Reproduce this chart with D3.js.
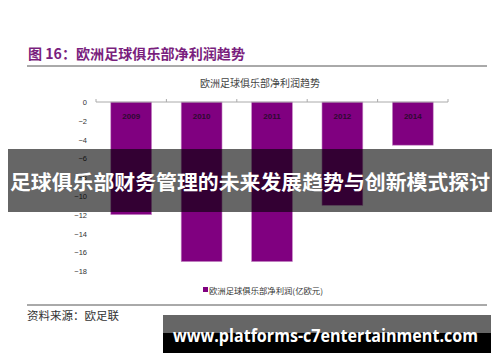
<!DOCTYPE html>
<html>
<head>
<meta charset="utf-8">
<script src="https://cdn.jsdelivr.net/npm/d3@7"></script>
<style>
  body { margin: 0; background: #fff; }
  svg { display: block; }
</style>
</head>
<body>
<svg id="chart" width="500" height="362"></svg>
<script>
// data
var years = ["2009", "2010", "2011", "2012", "2014"];
var profits = [-12, -17, -17, -11, -4.6];
var yTicks = [0, -2, -4, -6, -8, -10, -12, -14, -16, -18];

var cjk = "'Noto Sans CJK SC', 'Noto Sans', sans-serif";
var svg = d3.select("#chart");

// page header
svg.append("text")
    .attr("x", 28).attr("y", 59)
    .attr("font-family", cjk)
    .attr("font-size", 14)
    .attr("font-weight", "bold")
    .attr("fill", "#7a1f7e")
    .attr("textLength", 217)
    .attr("lengthAdjust", "spacingAndGlyphs")
    .text("图  16：欧洲足球俱乐部净利润趋势");

svg.append("line")
    .attr("x1", 27).attr("x2", 487)
    .attr("y1", 66).attr("y2", 66)
    .attr("stroke", "#555").attr("stroke-width", 1);

// chart title
svg.append("text")
    .attr("x", 260).attr("y", 86.5)
    .attr("text-anchor", "middle")
    .attr("font-family", cjk)
    .attr("font-size", 10)
    .attr("fill", "#444")
    .text("欧洲足球俱乐部净利润趋势");

// scales
var x = d3.scaleBand()
    .domain(years)
    .range([96, 448])
    .paddingInner(0.42)
    .paddingOuter(0.21);

var y = d3.scaleLinear()
    .domain([0, -18])
    .range([102, 271]);

// y axis (labels only)
var yAxis = d3.axisLeft(y)
    .tickValues(yTicks)
    .tickSize(0)
    .tickPadding(0)
    .tickFormat(d3.format("d"));

var gy = svg.append("g")
    .attr("transform", "translate(87,0)")
    .call(yAxis);
gy.select(".domain").remove();
gy.selectAll("text")
    .attr("font-family", "'Liberation Sans', Arial, sans-serif")
    .attr("font-size", 7.5)
    .attr("fill", "#333")
    .attr("dy", "0.35em");

// bars
svg.append("g").selectAll("rect")
    .data(years)
    .enter().append("rect")
    .attr("x", function(d) { return x(d); })
    .attr("width", x.bandwidth())
    .attr("y", y(0))
    .attr("height", function(d, i) { return y(profits[i]) - y(0); })
    .attr("fill", "#800080")
    .attr("stroke", "#c78fc7")
    .attr("stroke-width", 0.6);

// year labels inside the bars
svg.append("g").selectAll("text")
    .data(years)
    .enter().append("text")
    .attr("x", function(d) { return x(d) + x.bandwidth() / 2; })
    .attr("y", 118.5)
    .attr("text-anchor", "middle")
    .attr("font-family", "'Liberation Sans', Arial, sans-serif")
    .attr("font-size", 8)
    .attr("font-weight", "bold")
    .attr("fill", "#2e0a30")
    .text(function(d) { return d; });

// zero line with category boundary ticks
var step = x.step();
var xAxis = d3.axisTop(x)
    .tickSize(0)
    .tickFormat("");
var gx = svg.append("g")
    .attr("transform", "translate(0," + y(0) + ")")
    .call(xAxis);
gx.select(".domain").attr("stroke", "#aaa").attr("d", "M96,0H448");
gx.selectAll(".tick").remove();
svg.append("g").selectAll("line")
    .data(d3.range(years.length + 1))
    .enter().append("line")
    .attr("x1", function(i) { return 96 + i * step; })
    .attr("x2", function(i) { return 96 + i * step; })
    .attr("y1", y(0) - 3).attr("y2", y(0))
    .attr("stroke", "#aaa");

// legend
svg.append("rect")
    .attr("x", 203).attr("y", 287)
    .attr("width", 5).attr("height", 5)
    .attr("fill", "#800080");
svg.append("text")
    .attr("x", 209).attr("y", 293.5)
    .attr("font-family", cjk)
    .attr("font-size", 8)
    .attr("fill", "#333")
    .attr("textLength", 114)
    .attr("lengthAdjust", "spacingAndGlyphs")
    .text("欧洲足球俱乐部净利润(亿欧元)");

// footer line and source
svg.append("line")
    .attr("x1", 27).attr("x2", 487)
    .attr("y1", 305).attr("y2", 305)
    .attr("stroke", "#555").attr("stroke-width", 1);
svg.append("text")
    .attr("x", 27).attr("y", 320)
    .attr("font-family", cjk)
    .attr("font-size", 11.5)
    .attr("fill", "#333")
    .text("资料来源：欧足联");

// overlay banner
svg.append("rect")
    .attr("x", 8).attr("y", 149)
    .attr("width", 484).attr("height", 63)
    .attr("fill", "#000").attr("fill-opacity", 0.6);
svg.append("text")
    .attr("x", 250).attr("y", 190)
    .attr("text-anchor", "middle")
    .attr("font-family", cjk)
    .attr("font-size", 20)
    .attr("font-weight", "bold")
    .attr("fill", "#fff")
    .attr("textLength", 480)
    .attr("lengthAdjust", "spacingAndGlyphs")
    .text("足球俱乐部财务管理的未来发展趋势与创新模式探讨");

// watermark box
svg.append("rect")
    .attr("x", 163).attr("y", 315)
    .attr("width", 328).attr("height", 18)
    .attr("fill", "#666");
svg.append("rect")
    .attr("x", 163).attr("y", 333)
    .attr("width", 328).attr("height", 20)
    .attr("fill", "#000");
svg.append("text")
    .attr("x", 173).attr("y", 342)
    .attr("font-family", "'Open Sans', 'Noto Sans', sans-serif")
    .attr("font-size", 18)
    .attr("font-weight", "bold")
    .attr("fill", "#fff")
    .attr("textLength", 305)
    .attr("lengthAdjust", "spacingAndGlyphs")
    .text("www.platforms-c7entertainment.com");
</script>
</body>
</html>
